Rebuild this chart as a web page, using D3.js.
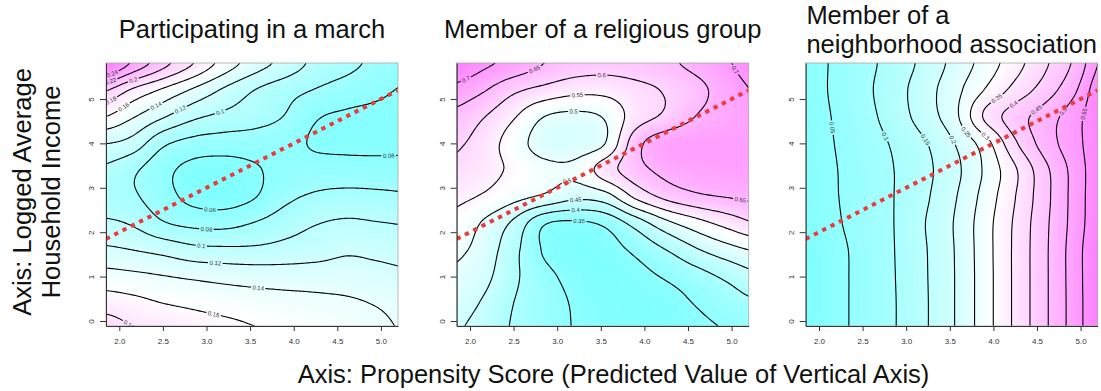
<!DOCTYPE html>
<html>
<head>
<meta charset="utf-8">
<script src="https://cdn.jsdelivr.net/npm/d3@7"></script>
<style>
  body { margin: 0; background: #fff; }
  text { font-family: "Liberation Sans", Arial, Helvetica, sans-serif; }
</style>
</head>
<body>
<svg id="chart" width="1101" height="391"></svg>
<script>
// ---- data ----
const panelTitles = [
  ["Participating in a march"],
  ["Member of a religious group"],
  ["Member of a", "neighborhood association"]
];
const yAxisTitle = ["Axis: Logged Average", "Household Income"];
const xAxisTitle = "Axis: Propensity Score (Predicted Value of Vertical Axis)";

const xTicks = [2.0, 2.5, 3.0, 3.5, 4.0, 4.5, 5.0];
const yTicks = [0, 1, 2, 3, 4, 5];

// grid nodes of the estimated surfaces
const gridX = [1.8, 2.15, 2.5, 2.85, 3.2, 3.55, 3.9, 4.25, 4.6, 4.95, 5.3];
const gridY = [-0.2, 0.4, 1.0, 1.6, 2.2, 2.8, 3.4, 4.0, 4.6, 5.2, 5.8];

// rows go bottom (y = -0.2) to top (y = 5.8)
const marchGrid = [
  [0.192, 0.181, 0.176, 0.170, 0.166, 0.161, 0.157, 0.153, 0.148, 0.143, 0.139],
  [0.171, 0.166, 0.160, 0.156, 0.152, 0.149, 0.147, 0.145, 0.143, 0.139, 0.135],
  [0.148, 0.145, 0.141, 0.137, 0.134, 0.132, 0.131, 0.131, 0.130, 0.127, 0.124],
  [0.124, 0.120, 0.114, 0.106, 0.104, 0.104, 0.107, 0.111, 0.117, 0.115, 0.112],
  [0.104, 0.098, 0.082, 0.075, 0.074, 0.081, 0.091, 0.099, 0.103, 0.101, 0.099],
  [0.089, 0.083, 0.068, 0.054, 0.051, 0.059, 0.075, 0.083, 0.086, 0.085, 0.083],
  [0.097, 0.084, 0.066, 0.054, 0.052, 0.058, 0.066, 0.068, 0.068, 0.067, 0.066],
  [0.121, 0.112, 0.084, 0.073, 0.070, 0.069, 0.066, 0.058, 0.056, 0.056, 0.057],
  [0.161, 0.142, 0.122, 0.104, 0.095, 0.089, 0.079, 0.062, 0.057, 0.056, 0.056],
  [0.204, 0.177, 0.157, 0.137, 0.117, 0.100, 0.088, 0.079, 0.071, 0.064, 0.058],
  [0.270, 0.237, 0.207, 0.180, 0.152, 0.130, 0.113, 0.095, 0.086, 0.075, 0.068]
];
const religiousGrid = [
  [0.457, 0.430, 0.395, 0.370, 0.348, 0.335, 0.328, 0.330, 0.340, 0.352, 0.365],
  [0.475, 0.445, 0.400, 0.375, 0.345, 0.330, 0.325, 0.333, 0.353, 0.375, 0.395],
  [0.492, 0.465, 0.410, 0.365, 0.335, 0.325, 0.335, 0.355, 0.380, 0.410, 0.440],
  [0.512, 0.480, 0.415, 0.345, 0.325, 0.330, 0.360, 0.400, 0.445, 0.480, 0.505],
  [0.537, 0.495, 0.440, 0.355, 0.342, 0.360, 0.420, 0.485, 0.530, 0.567, 0.600],
  [0.562, 0.545, 0.515, 0.492, 0.462, 0.478, 0.560, 0.613, 0.640, 0.652, 0.660],
  [0.588, 0.570, 0.540, 0.514, 0.512, 0.575, 0.630, 0.665, 0.680, 0.685, 0.686],
  [0.610, 0.578, 0.525, 0.478, 0.472, 0.500, 0.630, 0.682, 0.688, 0.690, 0.690],
  [0.637, 0.603, 0.555, 0.500, 0.488, 0.505, 0.575, 0.610, 0.652, 0.675, 0.688],
  [0.685, 0.655, 0.610, 0.585, 0.565, 0.565, 0.585, 0.605, 0.635, 0.675, 0.705],
  [0.745, 0.710, 0.685, 0.650, 0.628, 0.620, 0.626, 0.640, 0.665, 0.695, 0.725]
];
const neighborhoodGrid = [
  [0.002, 0.033, 0.064, 0.096, 0.142, 0.199, 0.277, 0.360, 0.443, 0.529, 0.619],
  [0.002, 0.033, 0.064, 0.096, 0.142, 0.199, 0.277, 0.360, 0.443, 0.529, 0.619],
  [0.001, 0.033, 0.064, 0.097, 0.143, 0.199, 0.277, 0.360, 0.443, 0.530, 0.620],
  [0.000, 0.033, 0.065, 0.098, 0.144, 0.200, 0.278, 0.360, 0.443, 0.530, 0.620],
  [0.010, 0.040, 0.070, 0.099, 0.147, 0.202, 0.278, 0.358, 0.441, 0.524, 0.608],
  [0.016, 0.044, 0.071, 0.099, 0.140, 0.194, 0.268, 0.349, 0.436, 0.523, 0.604],
  [0.018, 0.045, 0.072, 0.099, 0.136, 0.185, 0.257, 0.344, 0.439, 0.523, 0.602],
  [0.020, 0.048, 0.076, 0.105, 0.144, 0.199, 0.276, 0.392, 0.474, 0.535, 0.600],
  [0.021, 0.051, 0.082, 0.121, 0.173, 0.234, 0.357, 0.426, 0.475, 0.533, 0.606],
  [0.023, 0.055, 0.087, 0.127, 0.177, 0.232, 0.302, 0.367, 0.425, 0.497, 0.611],
  [0.025, 0.054, 0.084, 0.119, 0.163, 0.215, 0.270, 0.331, 0.393, 0.465, 0.575]
];

const marchLevels = [0.06, 0.08, 0.1, 0.12, 0.14, 0.16, 0.18, 0.2, 0.22, 0.24];
const religiousLevels = [0.35, 0.4, 0.45, 0.5, 0.55, 0.6, 0.65, 0.7];
const neighborhoodLevels = [0.05, 0.1, 0.15, 0.2, 0.25, 0.3, 0.35, 0.4, 0.45, 0.5, 0.55];

// where the contour labels sit, in data units
const marchLabels = [
  { level: 0.24, x: 1.92, y: 5.56 }, { level: 0.22, x: 1.92, y: 5.29 },
  { level: 0.2, x: 2.18, y: 5.31 }, { level: 0.18, x: 1.93, y: 4.87 },
  { level: 0.16, x: 2.07, y: 4.76 }, { level: 0.14, x: 2.43, y: 4.81 },
  { level: 0.12, x: 2.7, y: 4.76 }, { level: 0.1, x: 3.15, y: 4.74 },
  { level: 0.06, x: 5.09, y: 3.72 }, { level: 0.06, x: 3.04, y: 2.49 },
  { level: 0.08, x: 3.0, y: 2.07 }, { level: 0.1, x: 2.94, y: 1.68 },
  { level: 0.12, x: 3.1, y: 1.25 }, { level: 0.14, x: 3.59, y: 0.7 },
  { level: 0.16, x: 3.08, y: 0.14 }, { level: 0.18, x: 2.12, y: -0.05 }
];
const religiousLabels = [
  { level: 0.7, x: 1.95, y: 5.46 }, { level: 0.65, x: 2.73, y: 5.7 },
  { level: 0.6, x: 3.51, y: 5.56 }, { level: 0.55, x: 3.23, y: 5.11 },
  { level: 0.5, x: 3.19, y: 4.74 }, { level: 0.5, x: 3.13, y: 3.0 },
  { level: 0.45, x: 3.21, y: 2.77 }, { level: 0.4, x: 3.21, y: 2.55 },
  { level: 0.35, x: 3.25, y: 2.25 }, { level: 0.65, x: 5.1, y: 2.73 },
  { level: 0.7, x: 5.08, y: 5.7 }
];
const neighborhoodLabels = [
  { level: 0.05, x: 2.13, y: 4.35 }, { level: 0.1, x: 2.76, y: 4.16 },
  { level: 0.15, x: 3.2, y: 4.06 }, { level: 0.2, x: 3.5, y: 4.05 },
  { level: 0.25, x: 3.62, y: 4.16 }, { level: 0.3, x: 3.85, y: 4.05 },
  { level: 0.35, x: 4.05, y: 4.98 }, { level: 0.4, x: 4.26, y: 4.81 },
  { level: 0.45, x: 4.53, y: 4.68 }, { level: 0.5, x: 4.83, y: 4.68 },
  { level: 0.55, x: 5.08, y: 4.65 }
];

// reference line: predicted = actual
const refIntercept = 0;
const refSlope = 1;

// ---- layout ----
const panelLeft = [106, 456.7, 805.7];
const plotTop = 63, plotW = 292, plotH = 263;
const xDomain = [1.8475, 5.196];
const yDomain = [-0.1126, 5.81];

const panels = [
  { title: panelTitles[0], grid: marchGrid, levels: marchLevels, labels: marchLabels },
  { title: panelTitles[1], grid: religiousGrid, levels: religiousLevels, labels: religiousLabels },
  { title: panelTitles[2], grid: neighborhoodGrid, levels: neighborhoodLevels, labels: neighborhoodLabels }
];

const svg = d3.select("#chart");
svg.append("rect").attr("width", 1101).attr("height", 391).attr("fill", "#fff");
const defs = svg.append("defs");

// smooth surface through the grid nodes (Catmull-Rom both ways)
function surface(grid) {
  const nx = gridX.length, ny = gridY.length;
  const dx = gridX[1] - gridX[0], dy = gridY[1] - gridY[0];
  const cr = (p0, p1, p2, p3, t) =>
    0.5 * (2 * p1 + (p2 - p0) * t + (2 * p0 - 5 * p1 + 4 * p2 - p3) * t * t + (3 * p1 - p0 - 3 * p2 + p3) * t * t * t);
  const at = (j, i) => grid[Math.max(0, Math.min(ny - 1, j))][Math.max(0, Math.min(nx - 1, i))];
  return (x, y) => {
    const gx = Math.max(0, Math.min(nx - 1.0001, (x - gridX[0]) / dx));
    const gy = Math.max(0, Math.min(ny - 1.0001, (y - gridY[0]) / dy));
    const i = Math.floor(gx), j = Math.floor(gy);
    const tx = gx - i, ty = gy - j;
    const r = [-1, 0, 1, 2].map(k => cr(at(j + k, i - 1), at(j + k, i), at(j + k, i + 1), at(j + k, i + 2), tx));
    return cr(r[0], r[1], r[2], r[3], ty);
  };
}

// R cm.colors: cyan -> white -> magenta
function cmColor(t) {
  t = Math.max(0, Math.min(1, t));
  if (t < 0.5) {
    const s = 0.5 * (1 - 2 * t);
    return [255 * (1 - s), 255, 255];
  }
  const s = 0.5 * (2 * t - 1);
  return [255, 255 * (1 - s), 255];
}

panels.forEach((p, k) => {
  const left = panelLeft[k];
  const x = d3.scaleLinear().domain(xDomain).range([left, left + plotW]);
  const y = d3.scaleLinear().domain(yDomain).range([plotTop + plotH, plotTop]);
  const field = surface(p.grid);

  // sample the surface over the plot region (used for colours and contours)
  const nx = 150, ny = 135;
  const sx = (xDomain[1] - xDomain[0]) / (nx - 1);
  const sy = (yDomain[1] - yDomain[0]) / (ny - 1);
  const values = new Float64Array(nx * ny);
  for (let j = 0; j < ny; j++)
    for (let i = 0; i < nx; i++)
      values[j * nx + i] = field(xDomain[0] + i * sx, yDomain[1] - j * sy);
  const [vmin, vmax] = d3.extent(values);

  // filled background
  const canvas = document.createElement("canvas");
  canvas.width = plotW;
  canvas.height = plotH;
  const ctx = canvas.getContext("2d");
  const img = ctx.createImageData(plotW, plotH);
  for (let j = 0; j < plotH; j++) {
    for (let i = 0; i < plotW; i++) {
      const v = field(x.invert(left + i + 0.5), y.invert(plotTop + j + 0.5));
      const c = cmColor((v - vmin) / (vmax - vmin));
      const o = (j * plotW + i) * 4;
      img.data[o] = c[0]; img.data[o + 1] = c[1]; img.data[o + 2] = c[2]; img.data[o + 3] = 255;
    }
  }
  ctx.putImageData(img, 0, 0);
  svg.append("image")
    .attr("x", left).attr("y", plotTop)
    .attr("width", plotW).attr("height", plotH)
    .attr("preserveAspectRatio", "none")
    .attr("href", canvas.toDataURL());

  defs.append("clipPath").attr("id", "clip" + k)
    .append("rect").attr("x", left).attr("y", plotTop).attr("width", plotW).attr("height", plotH);

  const mask = defs.append("mask").attr("id", "mask" + k)
    .attr("maskUnits", "userSpaceOnUse")
    .attr("x", 0).attr("y", 0).attr("width", 1101).attr("height", 391);
  mask.append("rect").attr("width", 1101).attr("height", 391).attr("fill", "white");

  // contour lines
  const contours = d3.contours().size([nx, ny]).thresholds(p.levels)(values);
  const proj = d3.geoTransform({
    point(u, v) { this.stream.point(x(xDomain[0] + (u - 0.5) * sx), y(yDomain[1] - (v - 0.5) * sy)); }
  });
  const path = d3.geoPath(proj);

  svg.append("g")
    .attr("clip-path", `url(#clip${k})`)
    .attr("mask", `url(#mask${k})`)
    .selectAll("path")
    .data(contours)
    .join("path")
    .attr("d", path)
    .attr("fill", "none")
    .attr("stroke", "#000")
    .attr("stroke-width", 1.1);

  // contour labels, pulled onto their line and turned along it
  const F = (px, py) => field(x.invert(px), y.invert(py));
  const labelG = svg.append("g").attr("clip-path", `url(#clip${k})`);
  p.labels.forEach(l => {
    let px = x(l.x), py = y(l.y);
    const px0 = px, py0 = py;
    let gx = 0, gy = 0;
    for (let it = 0; it < 12; it++) {
      const f = F(px, py) - l.level;
      gx = F(px + 0.5, py) - F(px - 0.5, py);
      gy = F(px, py + 0.5) - F(px, py - 0.5);
      const g2 = gx * gx + gy * gy;
      if (g2 < 1e-14) break;
      let ddx = -f * gx / g2, ddy = -f * gy / g2;
      const m = Math.hypot(ddx, ddy);
      if (m > 2) { ddx *= 2 / m; ddy *= 2 / m; }
      px += ddx; py += ddy;
    }
    if (Math.hypot(px - px0, py - py0) > 14) { px = px0; py = py0; }
    let ang = Math.atan2(gy, gx) * 180 / Math.PI + 90;
    while (ang > 90) ang -= 180;
    while (ang <= -90) ang += 180;
    const tr = `translate(${px},${py}) rotate(${ang})`;
    const t = labelG.append("text")
      .attr("transform", tr)
      .attr("text-anchor", "middle")
      .attr("dy", "0.35em")
      .attr("font-size", 6)
      .attr("fill", "#333")
      .text(String(l.level));
    const w = t.node().getComputedTextLength();
    mask.append("rect")
      .attr("transform", tr)
      .attr("x", -w / 2 - 1.5).attr("y", -3)
      .attr("width", w + 3).attr("height", 6)
      .attr("fill", "black");
  });

  // red dotted reference line
  svg.append("line")
    .attr("clip-path", `url(#clip${k})`)
    .attr("x1", x(xDomain[0])).attr("y1", y(refIntercept + refSlope * xDomain[0]))
    .attr("x2", x(xDomain[1])).attr("y2", y(refIntercept + refSlope * xDomain[1]))
    .attr("stroke", "#ee3a3a")
    .attr("stroke-width", 4)
    .attr("stroke-dasharray", "4.3,5");

  // frame
  svg.append("rect")
    .attr("x", left).attr("y", plotTop).attr("width", plotW).attr("height", plotH)
    .attr("fill", "none").attr("stroke", "#a8a8a8").attr("stroke-width", 0.8);

  // axes
  const gxAxis = svg.append("g")
    .attr("transform", `translate(0,${plotTop + plotH})`)
    .call(d3.axisBottom(x).tickValues(xTicks).tickFormat(d3.format(".1f")).tickSize(5).tickSizeOuter(0));
  gxAxis.selectAll("text").attr("y", 18).attr("dy", 0);

  const gyAxis = svg.append("g")
    .attr("transform", `translate(${left},0)`)
    .call(d3.axisLeft(y).tickValues(yTicks).tickFormat(d3.format("d")).tickSize(6).tickSizeOuter(0));
  gyAxis.selectAll("text")
    .attr("transform", "rotate(-90)")
    .attr("x", 0).attr("y", -12).attr("dy", 0)
    .attr("text-anchor", "middle");

  [gxAxis, gyAxis].forEach(g => {
    g.selectAll(".domain").attr("stroke", "#333");
    g.selectAll(".tick line").attr("stroke", "#333");
    g.selectAll("text").attr("fill", "#333").attr("font-size", 8)
      .attr("font-family", '"Liberation Sans", Arial, sans-serif');
  });

  // panel title
  const cx = left + plotW / 2;
  if (p.title.length === 1) {
    svg.append("text")
      .attr("x", cx).attr("y", 38.3)
      .attr("text-anchor", "middle").attr("font-size", 25.5).attr("fill", "#111")
      .text(p.title[0]);
  } else {
    // two lines; first line starts where the centred second line starts
    const l2 = svg.append("text")
      .attr("x", cx).attr("y", 52.5)
      .attr("text-anchor", "middle").attr("font-size", 25.5).attr("fill", "#111")
      .text(p.title[1]);
    const w2 = l2.node().getComputedTextLength();
    svg.append("text")
      .attr("x", cx - w2 / 2).attr("y", 24)
      .attr("font-size", 25.5).attr("fill", "#111")
      .text(p.title[0]);
  }
});

// shared axis titles
svg.append("text")
  .attr("transform", "translate(31,192) rotate(-90)")
  .attr("text-anchor", "middle").attr("font-size", 25.5).attr("fill", "#111")
  .text(yAxisTitle[0]);
svg.append("text")
  .attr("transform", "translate(59.5,192) rotate(-90)")
  .attr("text-anchor", "middle").attr("font-size", 25.5).attr("fill", "#111")
  .text(yAxisTitle[1]);
svg.append("text")
  .attr("x", 613.5).attr("y", 383)
  .attr("text-anchor", "middle").attr("font-size", 25.5).attr("fill", "#111")
  .text(xAxisTitle);
</script>
</body>
</html>
